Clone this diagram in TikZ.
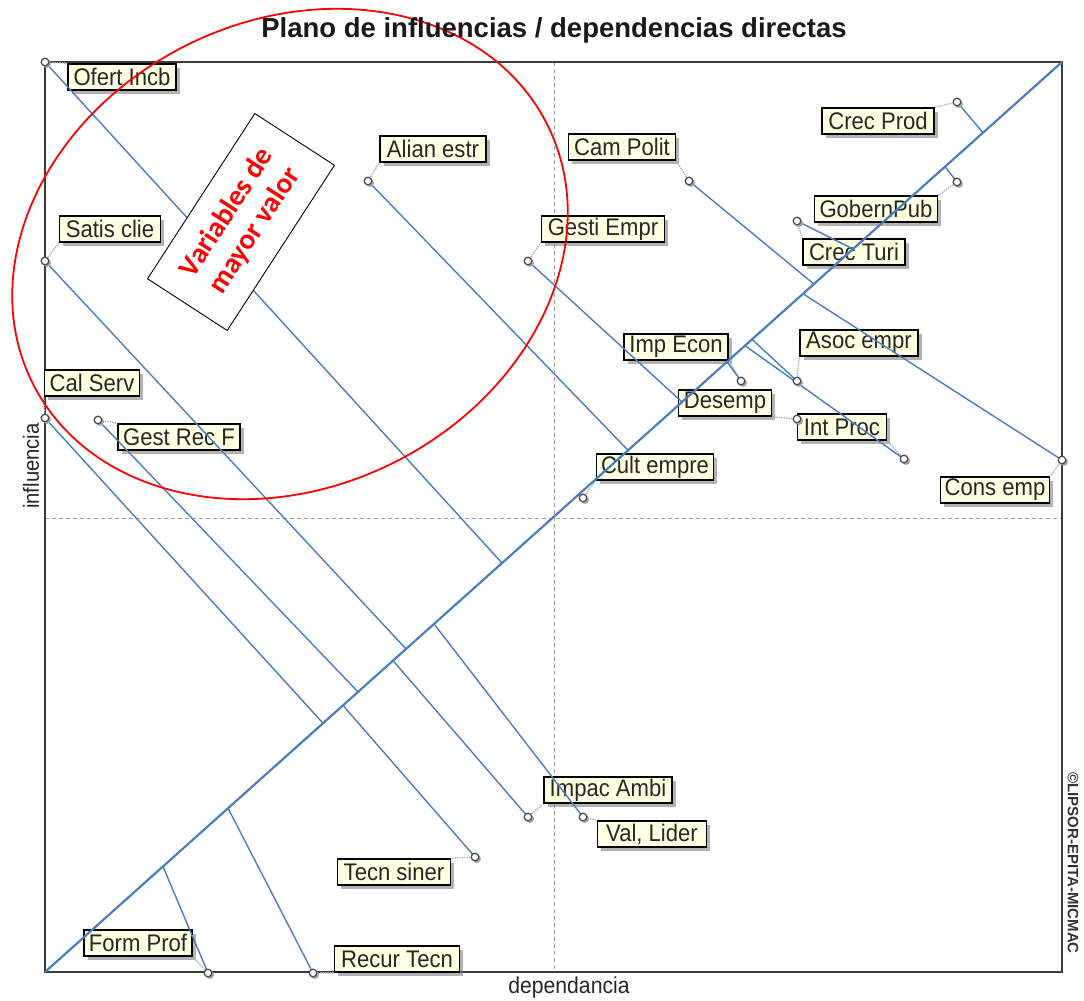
\documentclass[tikz,border=0pt]{standalone}
\usepackage{fontspec}
\setmainfont{Liberation Sans}
\newfontfamily\labfont[FakeStretch=0.92]{Liberation Sans}
\newfontfamily\calib{Carlito}
\usetikzlibrary{calc,shapes.geometric,shadows}
\definecolor{tipfill}{HTML}{FFFFE1}
\definecolor{projblue}{HTML}{4A7DBE}
\definecolor{framegray}{HTML}{3A3A3A}
\begin{document}
\begin{tikzpicture}[x=1pt,y=-1pt,
  lab/.style={draw=black, line width=1.6pt, fill=tipfill, text=black!85,
    font=\labfont\fontsize{24}{26}\selectfont, inner xsep=2pt, inner ysep=0pt,
    minimum height=26pt,
    drop shadow={shadow xshift=3.5pt, shadow yshift=-3.5pt, fill=black!55, opacity=0.55}},
  proj/.style={projblue, line width=1.4pt},
  axisline/.style={projblue, line width=2.2pt},
  leader/.style={gray!60, densely dotted, line width=1.4pt},
  marker/.style={draw=black!70, fill=white, line width=1.3pt},
  markshadow/.style={fill=black!35},
  quad/.style={gray!75, line width=1pt, dash pattern=on 4pt off 3pt},
]
\useasboundingbox (0,0) rectangle (1084,1001);

% plot frame corners
\coordinate (O) at (45,972);
\coordinate (T) at (1062,62);
\coordinate (TL) at (45,62);
\coordinate (BR) at (1062,972);

% quadrant separators
\draw[quad] (554,62) -- (554,972);
\draw[quad] (45,518) -- (1062,518);
\draw[framegray, line width=2.2pt] (TL) rectangle (BR);

% variable positions
\coordinate (pOfert)  at (45,62);
\coordinate (pAlian)  at (368,181);
\coordinate (pSatis)  at (45,261);
\coordinate (pGesti)  at (528,261);
\coordinate (pCam)    at (689,181);
\coordinate (pCProd)  at (957,102);
\coordinate (pGob)    at (957,182);
\coordinate (pCTuri)  at (797,221);
\coordinate (pImp)    at (741,381);
\coordinate (pAsoc)   at (797,381);
\coordinate (pDes)    at (797,419);
\coordinate (pInt)    at (904,459);
\coordinate (pCult)   at (583,498);
\coordinate (pCons)   at (1062,460);
\coordinate (pCal)    at (45,418);
\coordinate (pGRec)   at (98,420);
\coordinate (pImpac)  at (528,817);
\coordinate (pVal)    at (583,817);
\coordinate (pTecn)   at (475,857);
\coordinate (pForm)   at (208,973);
\coordinate (pRecur)  at (313,973);

% feet on the diagonal
\coordinate (qOfert) at ($(O)!0.4494!(T)$);
\coordinate (qSatis) at ($(O)!0.3550!(T)$);
\coordinate (qCal)   at ($(O)!0.2734!(T)$);
\coordinate (qGRec)  at ($(O)!0.3078!(T)$);
\coordinate (qAlian) at ($(O)!0.5733!(T)$);
\coordinate (qGesti) at ($(O)!0.6264!(T)$);
\coordinate (qCam)   at ($(O)!0.7560!(T)$);
\coordinate (qCons)  at ($(O)!0.7453!(T)$);
\coordinate (qCProd) at ($(O)!0.9223!(T)$);
\coordinate (qGob)   at ($(O)!0.8850!(T)$);
\coordinate (qCTuri) at ($(O)!0.7945!(T)$);
\coordinate (qImp)   at ($(O)!0.6706!(T)$);
\coordinate (qAsoc)  at ($(O)!0.6952!(T)$);
\coordinate (qInt)   at ($(O)!0.6883!(T)$);
\coordinate (qImpac) at ($(O)!0.3422!(T)$);
\coordinate (qVal)   at ($(O)!0.3825!(T)$);
\coordinate (qTecn)  at ($(O)!0.2930!(T)$);
\coordinate (qRecur) at ($(O)!0.1800!(T)$);
\coordinate (qForm)  at ($(O)!0.1160!(T)$);

% variable labels
\node[lab, minimum width=108pt] (lOfert) at (122,77)  {Ofert Incb};
\node[lab, minimum width=106pt] (lAlian) at (433,149) {Alian estr};
\node[lab, minimum width=101pt] (lSatis) at (110,229) {Satis clie};
\node[lab, minimum width=123pt] (lGesti) at (603,229) {Gesti Empr};
\node[lab, minimum width=107pt] (lCam)   at (622,147) {Cam Polit};
\node[lab, minimum width=112pt] (lCProd) at (878,121) {Crec Prod};
\node[lab, minimum width=123pt] (lGob)   at (876,209) {GobernPub};
\node[lab, minimum width=102pt] (lCTuri) at (854,252) {Crec Turi};
\node[lab, minimum width=104pt] (lImp)   at (676,347) {Imp Econ};
\node[lab, minimum width=118pt] (lAsoc)  at (859,343) {Asoc empr};
\node[lab, minimum width=93pt]  (lDes)   at (725,403) {Desemp};
\node[lab, minimum width=89pt]  (lInt)   at (842,427) {Int Proc};
\node[lab, minimum width=117pt] (lCult)  at (655,467) {Cult empre};
\node[lab, minimum width=109pt] (lCons)  at (995,490) {Cons emp};
\node[lab, minimum width=95pt]  (lCal)   at (92,383)  {Cal Serv};
\node[lab, minimum width=122pt] (lGRec)  at (179,437) {Gest Rec F};
\node[lab, minimum width=128pt] (lImpac) at (608,790) {Impac Ambi};
\node[lab, minimum width=109pt] (lVal)   at (652,834) {Val, Lider};
\node[lab, minimum width=113pt] (lTecn)  at (394,872) {Tecn siner};
\node[lab, minimum width=108pt] (lForm)  at (138,943) {Form Prof};
\node[lab, minimum width=125pt] (lRecur) at (397,959) {Recur Tecn};

% leaders from markers to labels
\draw[leader] (pOfert) -- (lOfert.north west);
\draw[leader] (pAlian) -- (lAlian.south west);
\draw[leader] (pSatis) -- (lSatis.south west);
\draw[leader] (pGesti) -- (lGesti.south west);
\draw[leader] (pCam)   -- (lCam.south east);
\draw[leader] (pCProd) -- (lCProd.north east);
\draw[leader] (pGob)   -- (lGob.north east);
\draw[leader] (pCTuri) -- (lCTuri.north west);
\draw[leader] (pImp)   -- (lImp.south east);
\draw[leader] (pAsoc)  -- (lAsoc.south west);
\draw[leader] (pDes)   -- (lDes.south east);
\draw[leader] (pInt)   -- (lInt.south east);
\draw[leader] (pCult)  -- (lCult.south west);
\draw[leader] (pCons)  -- (lCons.north east);
\draw[leader] (pCal)   -- (lCal.south west);
\draw[leader] (pGRec)  -- (lGRec.north west);
\draw[leader] (pImpac) -- (lImpac.south west);
\draw[leader] (pVal)   -- (lVal.north west);
\draw[leader] (pTecn)  -- (lTecn.north east);
\draw[leader] (pForm)  -- (lForm.south east);
\draw[leader] (pRecur) -- (lRecur.south west);

% diagonal axis and projections
\draw[axisline] (O) -- (T);
\foreach \v in {Ofert,Satis,Cal,GRec,Alian,Gesti,Cam,Cons,CProd,Gob,CTuri,Imp,Asoc,Int,Impac,Val,Tecn,Recur,Form}
  \draw[proj] (p\v) -- (q\v);

% markers
\foreach \v in {Ofert,Alian,Satis,Gesti,Cam,CProd,Gob,CTuri,Imp,Asoc,Des,Int,Cult,Cons,Cal,GRec,Impac,Val,Tecn,Form,Recur}{
  \fill[markshadow] ($(p\v)+(1.8,1.8)$) circle (4.2pt);
  \draw[marker] (p\v) circle (3.8pt);
}

% highlighted zone
\node[ellipse, draw=red, line width=1.8pt, minimum width=576pt, minimum height=466pt,
      inner sep=0pt, rotate=26.8] (zone) at (290,254) {};
\node[draw=black, line width=0.9pt, fill=white, rotate=57, minimum width=197pt,
      minimum height=95pt, inner sep=0pt, align=center, text=red,
      font=\calib\bfseries\fontsize{29}{33}\selectfont] (vmv) at (241,222)
      {Variables de\\mayor valor};

% titles and axis names
\node[anchor=base, font=\bfseries\fontsize{27.5}{30}\selectfont, text=black!90] (title) at (554,37)
  {Plano de influencias / dependencias directas};
\node[rotate=90, font=\labfont\fontsize{22}{24}\selectfont, text=black!85] (ylab) at (31,466) {influencia};
\node[font=\labfont\fontsize{23}{25}\selectfont, text=black!85] (xlab) at (569,988) {dependancia};
\node[rotate=-90, font=\bfseries\fontsize{15}{17}\selectfont, text=black!80] (copy) at (1073,863)
  {\textcopyright LIPSOR-EPITA-MICMAC};
\end{tikzpicture}
\end{document}
